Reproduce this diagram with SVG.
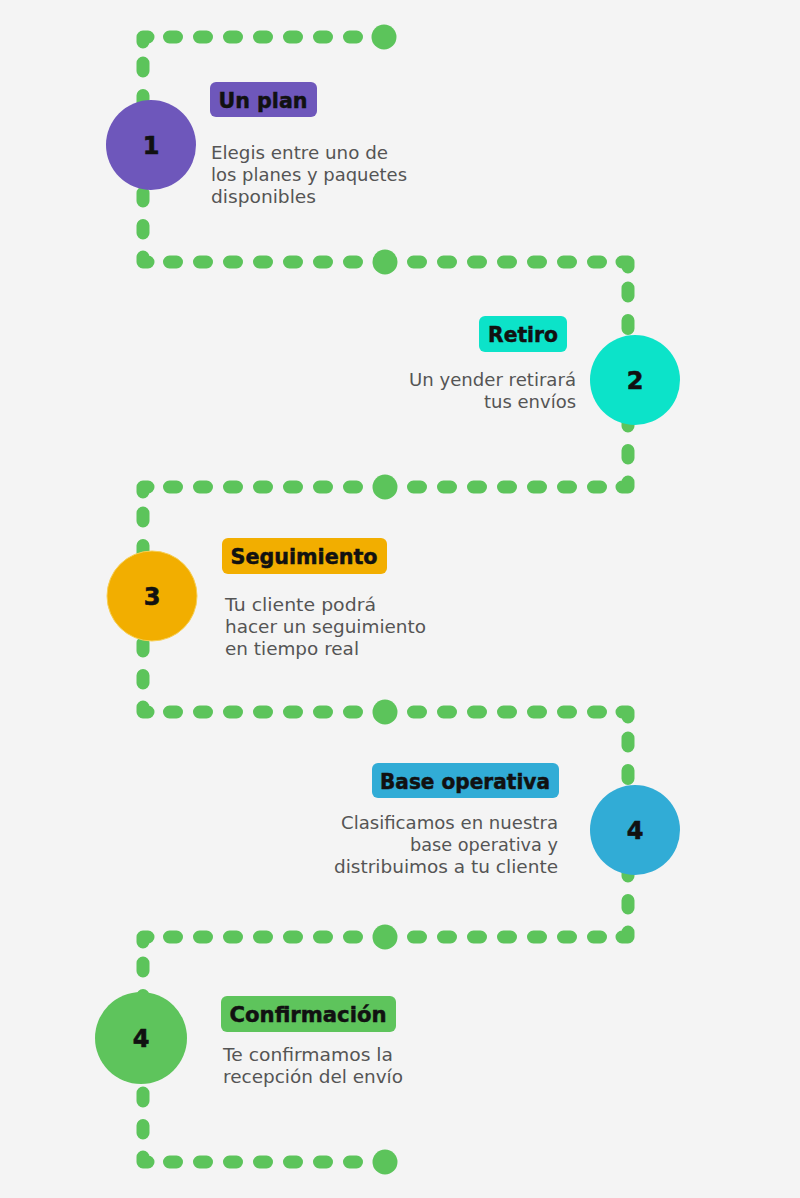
<svg xmlns="http://www.w3.org/2000/svg" width="800" height="1198" viewBox="0 0 800 1198">
<style>
.dh{fill:none;stroke:#5cc45b;stroke-width:13;stroke-linecap:round;stroke-dasharray:7 23}
.dv{fill:none;stroke:#5cc45b;stroke-width:13;stroke-linecap:round;stroke-dasharray:8 24.5}
.cn{fill:none;stroke:#5cc45b;stroke-width:13;stroke-linecap:round;stroke-linejoin:round}
.dot{fill:#5cc45b}
.num{font-family:"DejaVu Sans",sans-serif;font-weight:bold;font-size:24px;fill:#111;stroke:#111;stroke-width:0.6;text-anchor:middle}
.lbl{font-family:"DejaVu Sans",sans-serif;font-weight:bold;font-size:21px;fill:#111;stroke:#111;stroke-width:0.5;text-anchor:middle}
.dsc{font-family:"DejaVu Sans",sans-serif;font-size:18px;fill:#555}
.end{text-anchor:end}
</style>
<rect width="800" height="1198" fill="#f4f4f4"/>
<g id="connectors">
  <path class="dh" d="M169.5,37 H357"/>
  <circle class="dot" cx="384" cy="37" r="12.5"/>
  <path class="cn" d="M143,42 L143,37 L148,37"/>

  <path class="dh" d="M169.5,262 H357"/><path class="dh" d="M413.5,262 H601"/>
  <circle class="dot" cx="385" cy="262" r="12.5"/>
  <path class="cn" d="M143,257 L143,262 L148,262"/><path class="cn" d="M622,262 L628,262 L628,267"/>

  <path class="dh" d="M169.5,487 H357"/><path class="dh" d="M413.5,487 H601"/>
  <circle class="dot" cx="385" cy="487" r="12.5"/>
  <path class="cn" d="M628,482 L628,487 L622,487"/><path class="cn" d="M143,492 L143,487 L148,487"/>

  <path class="dh" d="M169.5,712 H357"/><path class="dh" d="M413.5,712 H601"/>
  <circle class="dot" cx="385" cy="712" r="12.5"/>
  <path class="cn" d="M143,707 L143,712 L148,712"/><path class="cn" d="M622,712 L628,712 L628,717"/>

  <path class="dh" d="M169.5,937 H357"/><path class="dh" d="M413.5,937 H601"/>
  <circle class="dot" cx="385" cy="937" r="12.5"/>
  <path class="cn" d="M628,932 L628,937 L622,937"/><path class="cn" d="M143,942 L143,937 L148,937"/>

  <path class="dh" d="M169.5,1162 H357"/>
  <circle class="dot" cx="385" cy="1162" r="12.5"/>
  <path class="cn" d="M143,1157 L143,1162 L148,1162"/>

  <path class="dv" d="M143,63 V233"/>
  <path class="dv" d="M628,288 V458"/>
  <path class="dv" d="M143,513 V683"/>
  <path class="dv" d="M628,738 V908"/>
  <path class="dv" d="M143,963 V1133"/>
</g>

<g id="step1">
  <circle cx="151" cy="145" r="45" fill="#6e57bb"/>
  <text class="num" x="151" y="154">1</text>
  <rect x="210" y="82" width="107" height="35" rx="6" fill="#6e57bb"/>
  <text class="lbl" x="263" y="108" textLength="89" lengthAdjust="spacingAndGlyphs">Un plan</text>
  <text class="dsc" x="211" y="159" textLength="177" lengthAdjust="spacingAndGlyphs">Elegis entre uno de</text>
  <text class="dsc" x="211" y="181" textLength="196" lengthAdjust="spacingAndGlyphs">los planes y paquetes</text>
  <text class="dsc" x="211" y="203" textLength="105" lengthAdjust="spacingAndGlyphs">disponibles</text>
</g>

<g id="step2">
  <circle cx="635" cy="380" r="45" fill="#0ce3c9"/>
  <text class="num" x="635" y="389">2</text>
  <rect x="479" y="316" width="88" height="36" rx="6" fill="#0ce3c9"/>
  <text class="lbl" x="523" y="342" textLength="70" lengthAdjust="spacingAndGlyphs">Retiro</text>
  <text class="dsc end" x="576" y="386" textLength="167" lengthAdjust="spacingAndGlyphs">Un yender retirará</text>
  <text class="dsc end" x="576" y="408" textLength="92" lengthAdjust="spacingAndGlyphs">tus envíos</text>
</g>

<g id="step3">
  <circle cx="152" cy="596" r="45" fill="#f2ae00" stroke="#f7cf55" stroke-width="1"/>
  <text class="num" x="152" y="605">3</text>
  <rect x="222" y="538" width="165" height="36" rx="6" fill="#f2ae00"/>
  <text class="lbl" x="304" y="564" textLength="147" lengthAdjust="spacingAndGlyphs">Seguimiento</text>
  <text class="dsc" x="225" y="611" textLength="151" lengthAdjust="spacingAndGlyphs">Tu cliente podrá</text>
  <text class="dsc" x="225" y="633" textLength="201" lengthAdjust="spacingAndGlyphs">hacer un seguimiento</text>
  <text class="dsc" x="225" y="655" textLength="134" lengthAdjust="spacingAndGlyphs">en tiempo real</text>
</g>

<g id="step4">
  <circle cx="635" cy="830" r="45" fill="#31acd6"/>
  <text class="num" x="635" y="839">4</text>
  <rect x="372" y="763" width="187" height="35" rx="6" fill="#31acd6"/>
  <text class="lbl" x="465" y="789" textLength="170" lengthAdjust="spacingAndGlyphs">Base operativa</text>
  <text class="dsc end" x="558" y="829" textLength="217" lengthAdjust="spacingAndGlyphs">Clasificamos en nuestra</text>
  <text class="dsc end" x="558" y="851" textLength="148" lengthAdjust="spacingAndGlyphs">base operativa y</text>
  <text class="dsc end" x="558" y="873" textLength="224" lengthAdjust="spacingAndGlyphs">distribuimos a tu cliente</text>
</g>

<g id="step5">
  <circle cx="141" cy="1038" r="46" fill="#5ec45c"/>
  <text class="num" x="141" y="1047">4</text>
  <rect x="221" y="996" width="175" height="36" rx="6" fill="#5ec45c"/>
  <text class="lbl" x="308" y="1022" textLength="157" lengthAdjust="spacingAndGlyphs">Confirmación</text>
  <text class="dsc" x="223" y="1061" textLength="170" lengthAdjust="spacingAndGlyphs">Te confirmamos la</text>
  <text class="dsc" x="223" y="1083" textLength="180" lengthAdjust="spacingAndGlyphs">recepción del envío</text>
</g>
</svg>
